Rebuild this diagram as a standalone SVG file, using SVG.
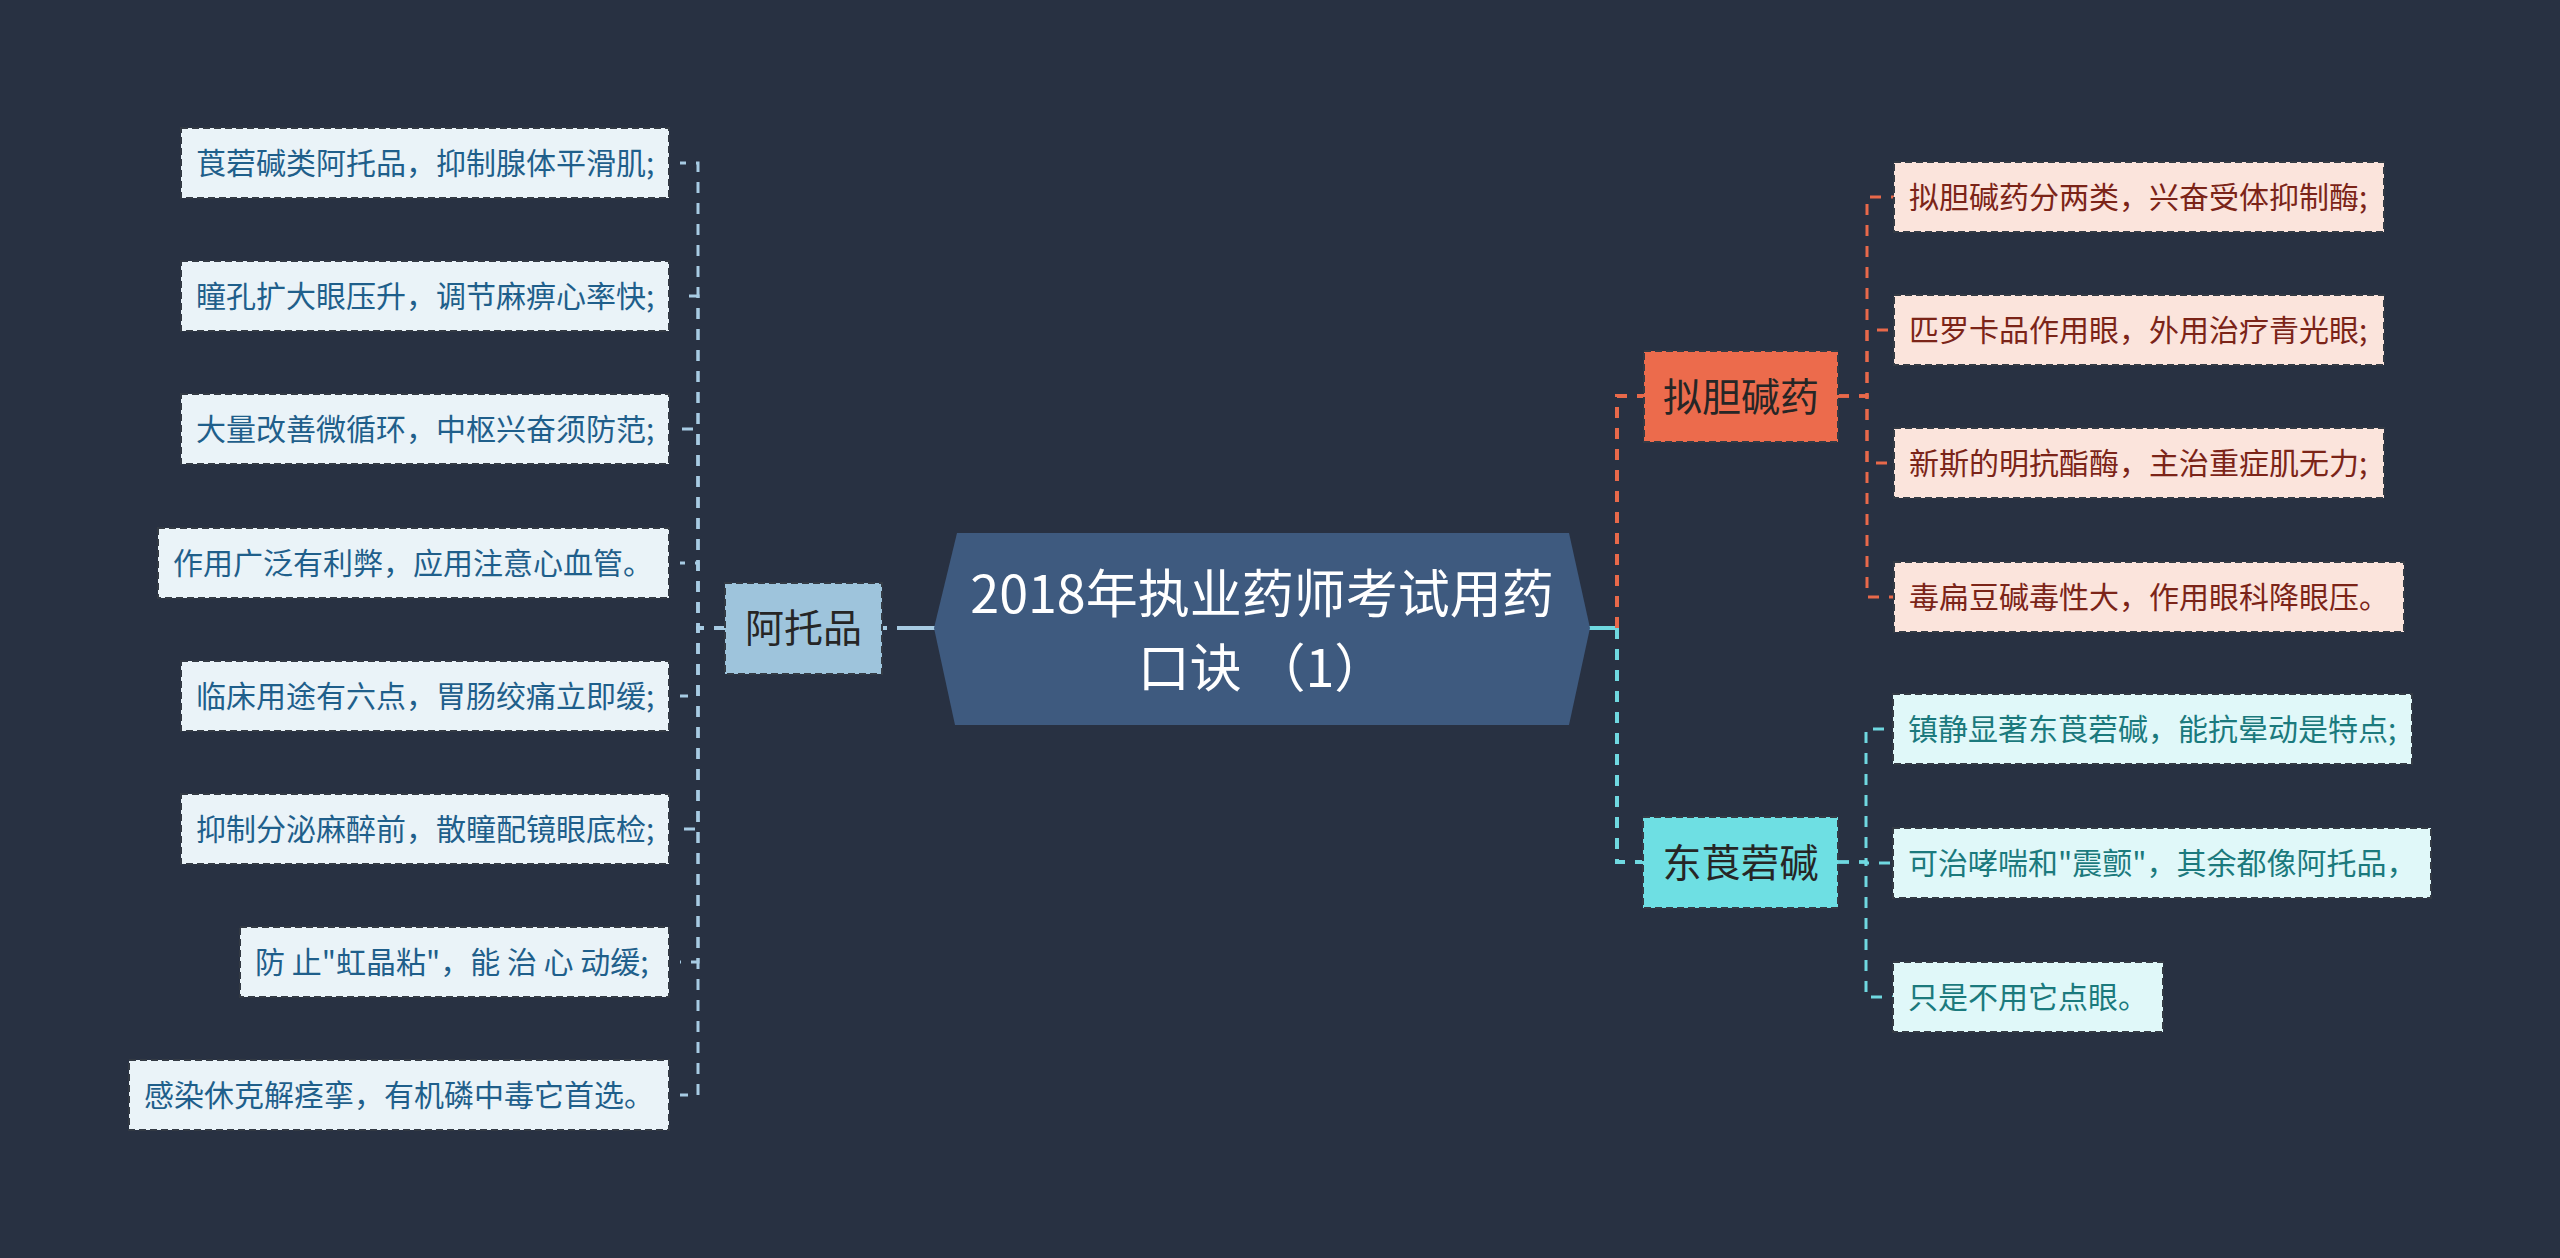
<svg xmlns="http://www.w3.org/2000/svg" width="2560" height="1258" viewBox="0 0 2560 1258">
<style>
text{font-family:"Noto Sans CJK SC","Noto Sans",sans-serif;}
.leaf{font-size:30px;}
.bl rect{fill:#eaf3f8;stroke:#333a44;stroke-width:2;stroke-dasharray:7 4;}
.bl text{fill:#1f5f8b;}
.or rect{fill:#fbe4dc;stroke:#333a44;stroke-width:2;stroke-dasharray:7 4;}
.or text{fill:#7b2418;}
.cy rect{fill:#e0f8f9;stroke:#333a44;stroke-width:2;stroke-dasharray:7 4;}
.cy text{fill:#1b7a7d;}
.br text{font-size:39px;fill:#262626;}
.br rect{stroke:#333a44;stroke-width:2;stroke-dasharray:7 4;}
.c{fill:none;stroke-width:3;stroke-dasharray:11 10;}
.cb{stroke:#a7cbe3;}
.co{stroke:#e8694a;}
.cc{stroke:#6fd8e0;}
</style>
<rect width="2560" height="1258" fill="#283142"/>
<g id="connectors">
<line x1="935" y1="628" x2="882" y2="628" stroke="#a7cbe3" stroke-width="4" stroke-dasharray="38 10 6 100"/>
<path class="c cb" d="M725,628H698V163H680"/>
<path class="c cb" d="M725,628H698V296H680"/>
<path class="c cb" d="M725,628H698V429H680"/>
<path class="c cb" d="M725,628H698V563H680"/>
<path class="c cb" d="M725,628H698V696H680"/>
<path class="c cb" d="M725,628H698V829H680"/>
<path class="c cb" d="M725,628H698V962H680"/>
<path class="c cb" d="M725,628H698V1095H680"/>
<line x1="1589" y1="628" x2="1617" y2="628" stroke="#6fd8e0" stroke-width="4"/>
<path class="c co" style="stroke-width:4" d="M1617,628V396H1644"/>
<path class="c cc" style="stroke-width:4" d="M1617,628V862H1643"/>
<path class="c co" d="M1838,396H1867V197H1894"/>
<path class="c co" d="M1838,396H1867V330H1894"/>
<path class="c co" d="M1838,396H1867V463H1894"/>
<path class="c co" d="M1838,396H1867V597H1894"/>
<path class="c cc" d="M1838,862H1866V729H1893"/>
<path class="c cc" d="M1838,862H1866V863H1893"/>
<path class="c cc" d="M1838,862H1866V997H1893"/>
</g>
<g id="center">
<path d="M957,533H1569L1590,628L1569,725H955L934,628Z" fill="#3e5a7f"/>
<text x="1262" y="613" font-size="52" fill="#ffffff" text-anchor="middle">2018年执业药师考试用药</text>
<text x="1262" y="687" font-size="52" fill="#ffffff" text-anchor="middle">口诀 （1）</text>
</g>
<g id="atropine" class="br">
<rect x="725" y="583" width="157" height="91" fill="#9ec4dc"/>
<text x="803.5" y="642" text-anchor="middle">阿托品</text>
</g>
<g id="cholinergic" class="br">
<rect x="1644" y="351" width="194" height="91" fill="#ec6b4c"/>
<text x="1741" y="411" text-anchor="middle" fill="#3a2420">拟胆碱药</text>
</g>
<g id="scopolamine" class="br">
<rect x="1643" y="817" width="195" height="91" fill="#6edfe3"/>
<text x="1740.5" y="877" text-anchor="middle">东莨菪碱</text>
</g>
<g id="l1" class="bl leaf"><rect x="181" y="128" width="488" height="70"/><text x="196" y="174">莨菪碱类阿托品，抑制腺体平滑肌;</text></g>
<g id="l2" class="bl leaf"><rect x="181" y="261" width="488" height="70"/><text x="196" y="307">瞳孔扩大眼压升，调节麻痹心率快;</text></g>
<g id="l3" class="bl leaf"><rect x="181" y="394" width="488" height="70"/><text x="196" y="440">大量改善微循环，中枢兴奋须防范;</text></g>
<g id="l4" class="bl leaf"><rect x="158" y="528" width="511" height="70"/><text x="173" y="574">作用广泛有利弊，应用注意心血管。</text></g>
<g id="l5" class="bl leaf"><rect x="181" y="661" width="488" height="70"/><text x="196" y="707">临床用途有六点，胃肠绞痛立即缓;</text></g>
<g id="l6" class="bl leaf"><rect x="181" y="794" width="488" height="70"/><text x="196" y="840">抑制分泌麻醉前，散瞳配镜眼底检;</text></g>
<g id="l7" class="bl leaf"><rect x="240" y="927" width="429" height="70"/><text x="255" y="973">防 止"虹晶粘"，能 治 心 动缓;</text></g>
<g id="l8" class="bl leaf"><rect x="129" y="1060" width="540" height="70"/><text x="144" y="1106">感染休克解痉挛，有机磷中毒它首选。</text></g>
<g id="r1" class="or leaf"><rect x="1894" y="162" width="490" height="70"/><text x="1909" y="208">拟胆碱药分两类，兴奋受体抑制酶;</text></g>
<g id="r2" class="or leaf"><rect x="1894" y="295" width="490" height="70"/><text x="1909" y="341">匹罗卡品作用眼，外用治疗青光眼;</text></g>
<g id="r3" class="or leaf"><rect x="1894" y="428" width="490" height="70"/><text x="1909" y="474">新斯的明抗酯酶，主治重症肌无力;</text></g>
<g id="r4" class="or leaf"><rect x="1894" y="562" width="510" height="70"/><text x="1909" y="608">毒扁豆碱毒性大，作用眼科降眼压。</text></g>
<g id="c1" class="cy leaf"><rect x="1893" y="694" width="519" height="70"/><text x="1908" y="740">镇静显著东莨菪碱，能抗晕动是特点;</text></g>
<g id="c2" class="cy leaf"><rect x="1893" y="828" width="538" height="70"/><text x="1908" y="874">可治哮喘和"震颤"，其余都像阿托品，</text></g>
<g id="c3" class="cy leaf"><rect x="1893" y="962" width="270" height="70"/><text x="1908" y="1008">只是不用它点眼。</text></g>
</svg>
